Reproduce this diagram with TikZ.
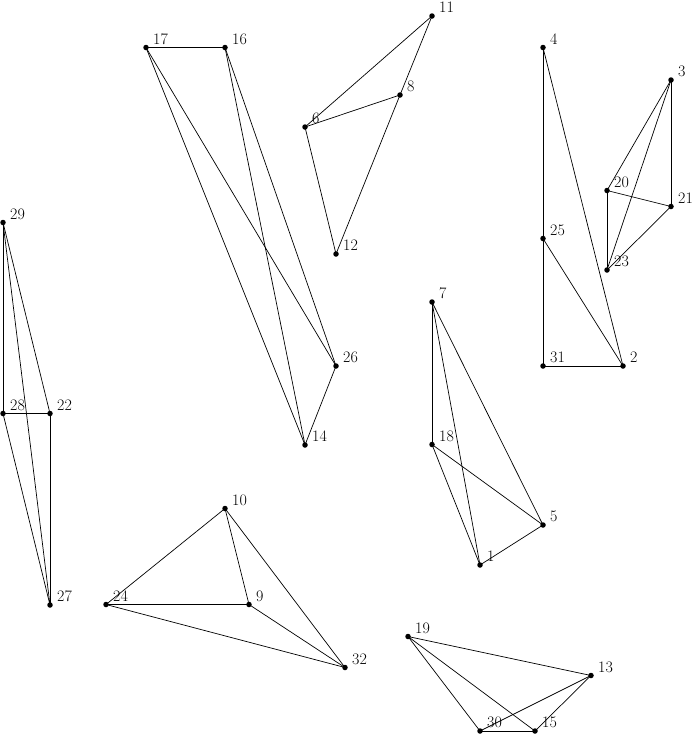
\documentclass[tikz,border=0pt]{standalone}
\begin{document}
\begin{tikzpicture}[x=1pt,y=-1pt,
  dot/.style={circle,fill=black,inner sep=0pt,minimum size=5.5pt},
  lab/.style={anchor=base west,inner sep=0pt,font=\fontsize{16}{19}\selectfont},
  edge/.style={draw=black,line width=0.7pt}]
\useasboundingbox (0,0) rectangle (694,734);
\newcommand\vtx[4]{\node[dot] (n#1) at (#2,#3) {};
  \path (n#1.center) ++(7,-3.5) node[lab] (l#1) {#4};}
\vtx{11}{432}{16}{11}
\vtx{8}{400}{95}{8}
\vtx{6}{305}{127}{6}
\vtx{12}{336}{254}{12}
\vtx{17}{146}{47.5}{17}
\vtx{16}{225}{47.5}{16}
\vtx{26}{336}{366}{26}
\vtx{14}{305}{445}{14}
\vtx{4}{543}{47.5}{4}
\vtx{3}{671}{80}{3}
\vtx{20}{607}{190.5}{20}
\vtx{21}{671}{206.5}{21}
\vtx{25}{543}{238.5}{25}
\vtx{23}{607}{270}{23}
\vtx{31}{543}{366}{31}
\vtx{2}{623}{366}{2}
\vtx{29}{3}{222.5}{29}
\vtx{28}{3}{413.5}{28}
\vtx{22}{50}{413.5}{22}
\vtx{27}{50}{605}{27}
\vtx{7}{432}{302}{7}
\vtx{18}{432}{444.5}{18}
\vtx{5}{543}{525}{5}
\vtx{1}{480}{565}{1}
\vtx{10}{225}{508.5}{10}
\vtx{24}{106}{604.5}{24}
\vtx{9}{249}{604.5}{9}
\vtx{32}{345}{667.5}{32}
\vtx{19}{408}{636.5}{19}
\vtx{13}{591}{675.5}{13}
\vtx{30}{480}{731}{30}
\vtx{15}{535}{731}{15}
\foreach \a/\b in {11/6,11/8,6/8,8/12,6/12,
  17/16,17/14,17/26,16/14,16/26,26/14,
  4/25,25/31,4/2,25/2,31/2,
  3/20,3/23,3/21,20/21,20/23,21/23,
  29/28,29/22,29/27,28/22,28/27,22/27,
  7/18,7/1,7/5,18/5,18/1,1/5,
  10/24,10/9,10/32,24/9,24/32,9/32,
  19/13,19/30,19/15,13/30,13/15,30/15}
  \draw[edge] (n\a.center) -- (n\b.center);
\end{tikzpicture}
\end{document}
